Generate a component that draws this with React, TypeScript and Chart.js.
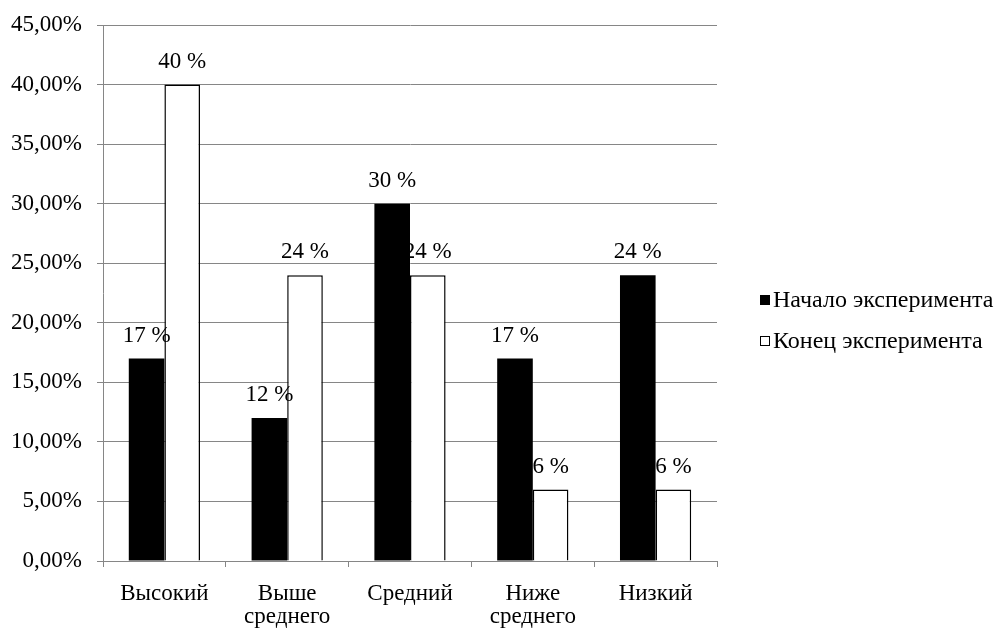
import React, { useEffect, useRef } from "react";
import { Chart, registerables } from "chart.js";

Chart.register(...registerables);

const categories: (string | string[])[] = [
  "Высокий",
  ["Выше", "среднего"],
  "Средний",
  ["Ниже", "среднего"],
  "Низкий",
];
const startValues = [0.17, 0.12, 0.3, 0.17, 0.24];
const endValues = [0.4, 0.24, 0.24, 0.06, 0.06];
const startLabels = ["17 %", "12 %", "30 %", "17 %", "24 %"];
const endLabels = ["40 %", "24 %", "24 %", "6 %", "6 %"];
const seriesNames = ["Начало эксперимента", "Конец эксперимента"];
const yTickLabels = [
  "0,00%", "5,00%", "10,00%", "15,00%", "20,00%",
  "25,00%", "30,00%", "35,00%", "40,00%", "45,00%",
];

const FONT = '"Liberation Serif", "Times New Roman", serif';
const GRID = "#868686";

const labelsPlugin = {
  id: "barLabels",
  afterDatasetsDraw(chart: any) {
    const ctx = chart.ctx;
    const all = [startLabels, endLabels];
    ctx.save();
    ctx.font = `23px ${FONT}`;
    ctx.fillStyle = "#000";
    ctx.textAlign = "center";
    ctx.textBaseline = "alphabetic";
    chart.data.datasets.forEach((_: any, di: number) => {
      const meta = chart.getDatasetMeta(di);
      meta.data.forEach((bar: any, i: number) => {
        ctx.fillText(all[di][i], bar.x, bar.y - 17);
      });
    });
    ctx.restore();
  },
};

const legendPlugin = {
  id: "sideLegend",
  afterDraw(chart: any) {
    const ctx = chart.ctx;
    const x = chart.chartArea.right + 43;
    const y0 = chart.height / 2 - 14;
    const gap = 41;
    ctx.save();
    ctx.font = `24px ${FONT}`;
    ctx.textBaseline = "middle";
    ctx.textAlign = "left";
    seriesNames.forEach((name, i) => {
      const y = y0 + i * gap;
      if (i === 0) {
        ctx.fillStyle = "#000";
        ctx.fillRect(x, y - 5, 10, 10);
      } else {
        ctx.fillStyle = "#fff";
        ctx.fillRect(x, y - 5, 10, 10);
        ctx.strokeStyle = "#000";
        ctx.lineWidth = 1;
        ctx.strokeRect(x + 0.5, y - 4.5, 9, 9);
      }
      ctx.fillStyle = "#000";
      ctx.fillText(name, x + 13, y + 1);
    });
    ctx.restore();
  },
};

export default function App() {
  const ref = useRef<HTMLCanvasElement | null>(null);
  useEffect(() => {
    if (!ref.current) return;
    const chart = new Chart(ref.current, {
      type: "bar",
      data: {
        labels: categories,
        datasets: [
          {
            label: seriesNames[0],
            data: startValues,
            backgroundColor: "#000",
            borderColor: "#000",
            borderWidth: 0,
            categoryPercentage: 0.58,
            barPercentage: 1,
          },
          {
            label: seriesNames[1],
            data: endValues,
            backgroundColor: "#fff",
            borderColor: "#000",
            borderWidth: 1.5,
            categoryPercentage: 0.58,
            barPercentage: 1,
          },
        ],
      },
      options: {
        animation: false,
        responsive: false,
        devicePixelRatio: 1,
        layout: { padding: { top: 25, right: 283, left: 0, bottom: 0 } },
        plugins: {
          legend: { display: false },
          tooltip: { enabled: false },
        },
        scales: {
          x: {
            afterFit(scale: any) {
              scale.height = 67;
              scale.paddingLeft = 0;
              scale.paddingRight = 0;
            },
            grid: {
              display: true,
              drawOnChartArea: false,
              drawTicks: true,
              tickLength: 6,
              color: GRID,
              offset: true,
            },
            border: { color: GRID, width: 1 },
            ticks: {
              color: "#000",
              font: { family: FONT, size: 23, lineHeight: 1.0 },
              padding: 15,
              maxRotation: 0,
              autoSkip: false,
            },
          },
          y: {
            min: 0,
            max: 0.45,
            afterFit(scale: any) {
              scale.width = 103;
              scale.paddingTop = 0;
              scale.paddingBottom = 0;
            },
            grid: { color: GRID, tickLength: 6, lineWidth: 1 },
            border: { color: GRID, width: 1 },
            ticks: {
              stepSize: 0.05,
              color: "#000",
              font: { family: FONT, size: 23 },
              padding: 15,
              callback: (_v: any, i: number) => yTickLabels[i],
            },
          },
        },
      },
      plugins: [labelsPlugin, legendPlugin],
    });
    return () => chart.destroy();
  }, []);
  return (
    <div style={{ position: "absolute", left: 0, top: 0, width: 1000, height: 628, background: "#fff" }}>
      <canvas ref={ref} width={1000} height={628} style={{ display: "block" }} />
    </div>
  );
}
